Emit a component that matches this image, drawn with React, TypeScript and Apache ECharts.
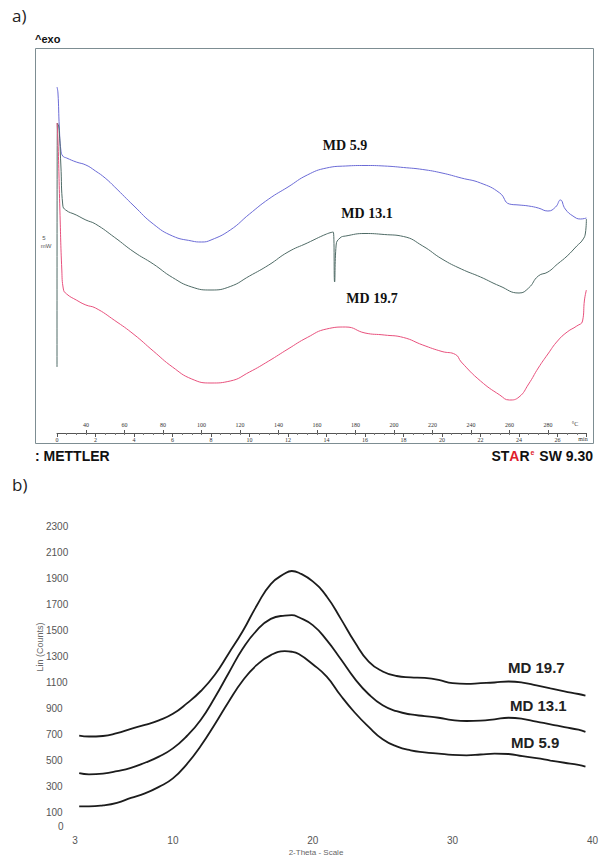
import React, { useEffect, useRef } from "react";
import * as echarts from "echarts";

// ---------- Panel a: DSC (time in min, heat flow in mW, exo up) ----------
const dscTempTicks = [40, 60, 80, 100, 120, 140, 160, 180, 200, 220, 240, 260, 280];

const md59Time = [0, 0.05, 0.12, 0.2, 0.3, 0.5, 1, 1.5, 2, 2.5, 3, 4, 5, 6, 7, 7.5, 8, 9, 10, 11, 12, 13, 14, 15, 16, 17, 18, 19, 20, 21, 22, 23, 23.5, 24, 24.5, 25, 25.5, 25.9, 26.15, 26.4, 26.8, 27.2, 27.5];
const md59Heat = [34.6, 34.0, 30.6, 28.3, 27.7, 27.5, 27.1, 26.8, 26.2, 25.5, 24.6, 22.7, 20.9, 19.7, 19.2, 19.1, 19.3, 20.3, 21.9, 23.4, 24.6, 25.8, 26.5, 26.7, 26.75, 26.7, 26.55, 26.35, 26.0, 25.5, 25.0, 24.0, 22.9, 22.8, 22.7, 22.5, 22.2, 22.6, 23.3, 22.4, 21.7, 21.4, 21.5];

const md131Time = [0, 0.02, 0.1, 0.2, 0.3, 0.45, 1, 1.5, 2, 3, 4, 5, 6, 7, 8, 9, 10, 11, 12, 13, 14, 14.35, 14.42, 14.5, 14.7, 15, 16, 17, 18, 19, 20, 21, 22, 23, 24, 24.5, 25, 25.5, 26, 26.5, 27, 27.3, 27.45, 27.5];
const md131Heat = [6.6, 31.0, 30.5, 26.8, 22.8, 22.3, 21.8, 21.3, 20.9, 19.55, 18.1, 16.9, 15.55, 14.6, 14.3, 14.65, 15.7, 16.8, 18.1, 19.0, 19.9, 20.1, 15.1, 18.8, 19.5, 19.7, 19.95, 19.85, 19.65, 18.7, 17.4, 16.4, 15.6, 14.7, 14.0, 14.5, 15.7, 16.1, 16.9, 17.7, 18.7, 19.3, 20.0, 21.4];

const md197Time = [0, 0.05, 0.15, 0.25, 0.33, 0.5, 1, 1.5, 2, 3, 4, 5, 6, 7, 8, 9, 10, 11, 12, 13, 14, 15, 16, 17, 18, 19, 20, 20.7, 21, 22, 23, 23.5, 24, 24.5, 25, 25.5, 26, 26.5, 27, 27.3, 27.4, 27.5];
const md197Heat = [31.0, 29.3, 22.3, 16.3, 14.4, 13.9, 13.3, 12.8, 12.5, 11.25, 9.85, 8.2, 6.6, 5.4, 5.0, 5.2, 6.1, 7.2, 8.4, 9.55, 10.4, 10.6, 10.0, 9.8, 9.55, 8.8, 8.15, 7.85, 7.1, 5.2, 3.8, 3.3, 3.6, 4.9, 6.5, 7.9, 9.2, 10.1, 10.7, 11.2, 13.3, 14.3];

// ---------- Panel b: XRD ----------
const xrdTwoTheta = [3.3, 4, 5, 6, 7, 8, 9, 10, 11, 12, 13, 14, 15, 16, 17, 18, 18.5, 19, 20, 21, 22, 23, 24, 25, 26, 27, 28, 29, 30, 31, 32, 33, 34, 35, 36, 37, 38, 39, 39.5];
const xrdMd197 = [693, 686, 690, 712, 745, 775, 810, 860, 940, 1035, 1160, 1325, 1495, 1690, 1855, 1935, 1955, 1942, 1875, 1760, 1590, 1410, 1260, 1185, 1150, 1140, 1135, 1120, 1095, 1090, 1095, 1100, 1108, 1100, 1078, 1055, 1033, 1012, 1000];
const xrdMd131 = [405, 396, 402, 420, 445, 485, 532, 595, 690, 815, 985, 1175, 1360, 1500, 1588, 1613, 1616, 1600, 1540, 1425, 1280, 1130, 1010, 925, 880, 855, 843, 830, 812, 805, 808, 818, 830, 822, 800, 780, 758, 738, 722];
const xrdMd59 = [150, 150, 158, 178, 215, 250, 300, 365, 475, 615, 780, 955, 1115, 1235, 1310, 1340, 1336, 1318, 1240, 1145, 1000, 870, 760, 665, 610, 580, 565, 555, 545, 542, 548, 555, 552, 535, 520, 502, 485, 468, 455];
const xrdXTicks = [3, 10, 20, 30, 40];
const xrdYTicks = [0, 100, 300, 500, 700, 900, 1100, 1300, 1500, 1700, 1900, 2100, 2300];

const zip = (a: number[], b: number[]) => a.map((v, i) => [v, b[i]]);

const SANS = "Liberation Sans, Arial, sans-serif";
const SERIF = "Liberation Serif, Times New Roman, serif";

function txt(x: number, y: number, text: string, font: string, fill = "#111", align = "left", extra: any = {}) {
  return {
    type: "text",
    x,
    y,
    silent: true,
    style: { text, font, fill, align, verticalAlign: "middle", textAlign: align, textVerticalAlign: "middle" },
    ...extra,
  };
}

export default function App() {
  const ref = useRef<HTMLDivElement>(null);
  useEffect(() => {
    const chart = echarts.init(ref.current!, null, { renderer: "svg" });
    const dscLine = (name: string, t: number[], h: number[], color: string) => ({
      name,
      type: "line",
      xAxisIndex: 1,
      yAxisIndex: 0,
      data: zip(t, h),
      showSymbol: false,
      smooth: 0.5,
      lineStyle: { color, width: 1 },
      silent: true,
    });
    const xrdLine = (name: string, v: number[]) => ({
      name,
      type: "line",
      xAxisIndex: 2,
      yAxisIndex: 1,
      data: zip(xrdTwoTheta, v),
      showSymbol: false,
      smooth: 0.5,
      lineStyle: { color: "#1c1c1c", width: 1.8 },
      silent: true,
    });
    chart.setOption({
      animation: false,
      backgroundColor: "#ffffff",
      grid: [
        { left: 57, top: 48, width: 529.4, height: 385 },
        { left: 75, top: 526, width: 519, height: 300 },
      ],
      xAxis: [
        {
          gridIndex: 0,
          type: "value",
          min: 25,
          max: 300,
          position: "bottom",
          axisLine: { show: false },
          axisTick: { show: true, inside: true, length: 3, customValues: dscTempTicks, lineStyle: { color: "#555" } },
          axisLabel: { inside: true, margin: 5, customValues: dscTempTicks, fontSize: 6, color: "#333", fontFamily: SERIF },
          splitLine: { show: false },
        },
        {
          gridIndex: 0,
          type: "value",
          min: 0,
          max: 27.5,
          interval: 2,
          position: "bottom",
          axisLine: { show: true, lineStyle: { color: "#555", width: 1 } },
          axisTick: { length: 4, lineStyle: { color: "#555" } },
          minorTick: { show: true, splitNumber: 4, length: 2, lineStyle: { color: "#777" } },
          axisLabel: { margin: 4, fontSize: 6, color: "#333", fontFamily: SERIF, showMaxLabel: false },
          splitLine: { show: false },
        },
        {
          gridIndex: 1,
          type: "value",
          min: 3,
          max: 40,
          axisLine: { show: false },
          axisTick: { show: false },
          axisLabel: { customValues: xrdXTicks, fontSize: 10, color: "#555", margin: 9, fontFamily: SANS },
          splitLine: { show: false },
        },
      ],
      yAxis: [
        { gridIndex: 0, type: "value", min: 0, max: 38.5, show: false },
        {
          gridIndex: 1,
          type: "value",
          min: 0,
          max: 2300,
          axisLine: { show: false },
          axisTick: { show: false },
          axisLabel: {
            customValues: xrdYTicks,
            fontSize: 10,
            color: "#555",
            align: "left",
            margin: 29,
            fontFamily: SANS,
            formatter: (v: number) => (v === 0 ? "{z|0}" : String(v)),
            rich: { z: { fontSize: 10, color: "#555", fontFamily: SANS, padding: [0, 0, 0, 12] } },
          },
          splitLine: { show: false },
        },
      ],
      series: [
        dscLine("MD 5.9", md59Time, md59Heat, "#6b6bd6"),
        dscLine("MD 13.1", md131Time, md131Heat, "#4f6b66"),
        dscLine("MD 19.7", md197Time, md197Heat, "#e8517d"),
        xrdLine("MD 19.7", xrdMd197),
        xrdLine("MD 13.1", xrdMd131),
        xrdLine("MD 5.9", xrdMd59),
      ],
      graphic: [
        {
          type: "rect",
          silent: true,
          z: -1,
          shape: { x: 35.5, y: 48.5, width: 558, height: 395 },
          style: { fill: "none", stroke: "#7d8d92", lineWidth: 1 },
        },
        txt(12, 15, "a)", "17px Open Sans, sans-serif", "#222"),
        txt(35, 39, "^exo", "bold 11px " + SANS, "#111"),
        txt(44, 238, "5", "6px " + SANS, "#555", "center"),
        txt(46, 246, "mW", "6px " + SANS, "#555", "center"),
        txt(345, 145, "MD 5.9", "bold 14px " + SERIF, "#111", "center"),
        txt(367, 213, "MD 13.1", "bold 14px " + SERIF, "#111", "center"),
        txt(372, 298, "MD 19.7", "bold 14px " + SERIF, "#111", "center"),
        txt(575, 424, "°C", "6px " + SERIF, "#333", "center"),
        txt(583, 439, "min", "6px " + SERIF, "#333", "center"),
        txt(35, 456, ": METTLER", "bold 14px " + SANS, "#111"),
        {
          type: "text",
          x: 593,
          y: 456,
          silent: true,
          style: {
            text: "{b|ST}{r|A}{b|R}{s|e}{b| SW 9.30}",
            align: "right",
            verticalAlign: "middle",
            textAlign: "right",
            textVerticalAlign: "middle",
            rich: {
              b: { font: "bold 14px " + SANS, fill: "#111", color: "#111" },
              r: { font: "bold 14px " + SANS, fill: "#e0202a", color: "#e0202a" },
              s: { font: "bold 7px " + SANS, fill: "#e0202a", color: "#e0202a", verticalAlign: "top", padding: [0, 1, 6, 1] },
            },
          },
        },
        txt(12, 484, "b)", "17px Open Sans, sans-serif", "#222"),
        txt(40, 647, "Lin (Counts)", "9px " + SANS, "#666", "center", { rotation: Math.PI / 2 }),
        txt(316, 852, "2-Theta - Scale", "8px " + SANS, "#666", "center"),
        txt(508, 667, "MD 19.7", "bold 15px " + SANS, "#222", "left"),
        txt(510, 705, "MD 13.1", "bold 15px " + SANS, "#222", "left"),
        txt(511, 742, "MD 5.9", "bold 15px " + SANS, "#222", "left"),
      ],
    });
    return () => chart.dispose();
  }, []);
  return (
    <div
      ref={ref}
      style={{ position: "fixed", left: 0, top: 0, width: 601, height: 858, background: "#fff" }}
    />
  );
}
